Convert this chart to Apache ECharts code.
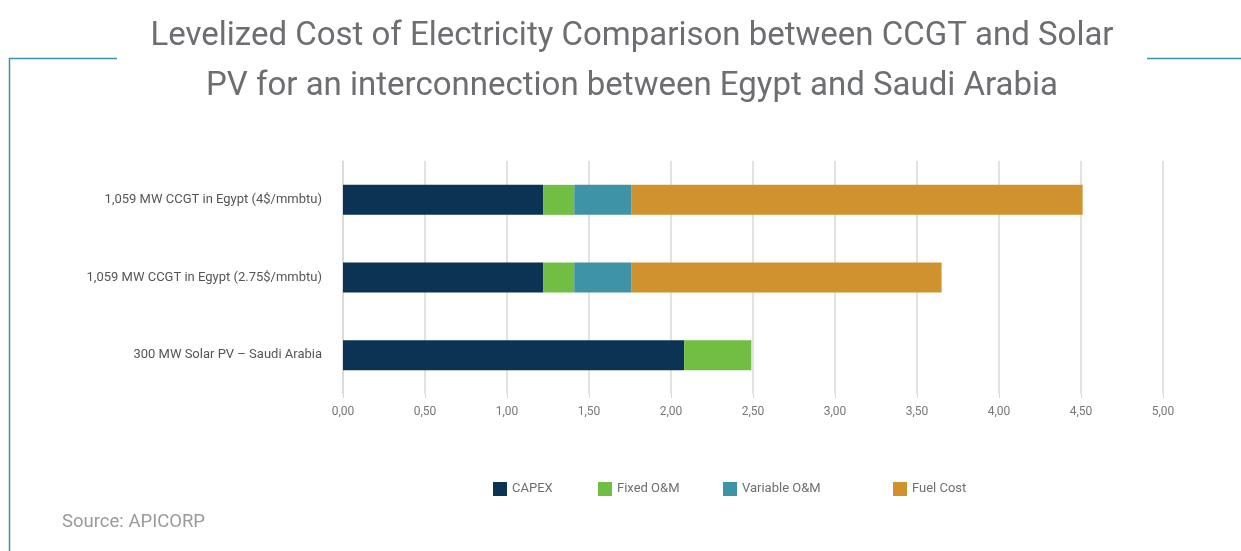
<!DOCTYPE html>
<html><head><meta charset="utf-8">
<script src="https://cdn.jsdelivr.net/npm/echarts@6/dist/echarts.min.js"></script>
<style>html,body{margin:0;padding:0;background:#fff}#c{width:1241px;height:551px}</style>
</head><body><div id="c"></div>
<script>
const categories = ['300 MW Solar PV – Saudi Arabia', '1,059 MW CCGT in Egypt (2.75$/mmbtu)', '1,059 MW CCGT in Egypt (4$/mmbtu)'];
const capex = [2.08, 1.22, 1.22];
const fixedOM = [0.41, 0.19, 0.19];
const variableOM = [0, 0.35, 0.35];
const fuelCost = [0, 1.89, 2.75];
const seriesNames = ['CAPEX', 'Fixed O&M', 'Variable O&M', 'Fuel Cost'];
const colors = ['#0b3353', '#72be44', '#3f93a6', '#cf922e'];
const seriesData = [capex, fixedOM, variableOM, fuelCost];
const legendLeft = [488, 593, 718, 888];
const titleLines = ['Levelized Cost of Electricity Comparison between CCGT and Solar', 'PV for an interconnection between Egypt and Saudi Arabia'];

const chart = echarts.init(document.getElementById('c'));
chart.setOption({
  animation: false,
  legend: seriesNames.map((n, i) => ({
    data: [n], left: legendLeft[i], bottom: 50, itemWidth: 14, itemHeight: 14,
    icon: 'rect', selectedMode: false,
    textStyle: { fontFamily: 'Roboto', fontSize: 13, color: '#6d6e71' }
  })),
  grid: { left: 343, right: 78, top: 161, bottom: 157, containLabel: false },
  xAxis: {
    type: 'value', min: 0, max: 5, interval: 0.5,
    axisLine: { show: false },
    axisTick: { show: true, length: 4, lineStyle: { color: '#d9d9d9' } },
    splitLine: { lineStyle: { color: '#d9d9d9', width: 1.5 } },
    axisLabel: { formatter: v => v.toFixed(2).replace('.', ','), fontFamily: 'Roboto', fontSize: 12, color: '#777', margin: 12 }
  },
  yAxis: {
    type: 'category', data: categories,
    axisLine: { show: true, lineStyle: { color: '#d9d9d9', width: 1.5 } },
    axisTick: { show: false },
    axisLabel: { fontFamily: 'Roboto', fontSize: 13, color: '#555', margin: 21 }
  },
  series: seriesNames.map((n, i) => ({
    name: n, type: 'bar', stack: 'total', barWidth: 30,
    itemStyle: { color: colors[i] },
    data: seriesData[i]
  })),
  graphic: [
    { type: 'text', style: { x: 632, y: 37, text: titleLines[0], font: '33px Roboto', fill: '#6d6e71', align: 'center', verticalAlign: 'middle' } },
    { type: 'text', style: { x: 632, y: 87, text: titleLines[1], font: '33px Roboto', fill: '#6d6e71', align: 'center', verticalAlign: 'middle' } },
    { type: 'polyline', shape: { points: [[117, 58.5], [9.5, 58.5], [9.5, 551]] }, style: { stroke: '#3f93a6', lineWidth: 1.5, fill: null } },
    { type: 'line', shape: { x1: 1147, y1: 58.5, x2: 1241, y2: 58.5 }, style: { stroke: '#3f93a6', lineWidth: 1.5 } },
    { type: 'text', left: 62, top: 513, style: { text: 'Source: APICORP', font: '18.5px Roboto', fill: '#9a9a9a' } }
  ]
});
</script></body></html>
